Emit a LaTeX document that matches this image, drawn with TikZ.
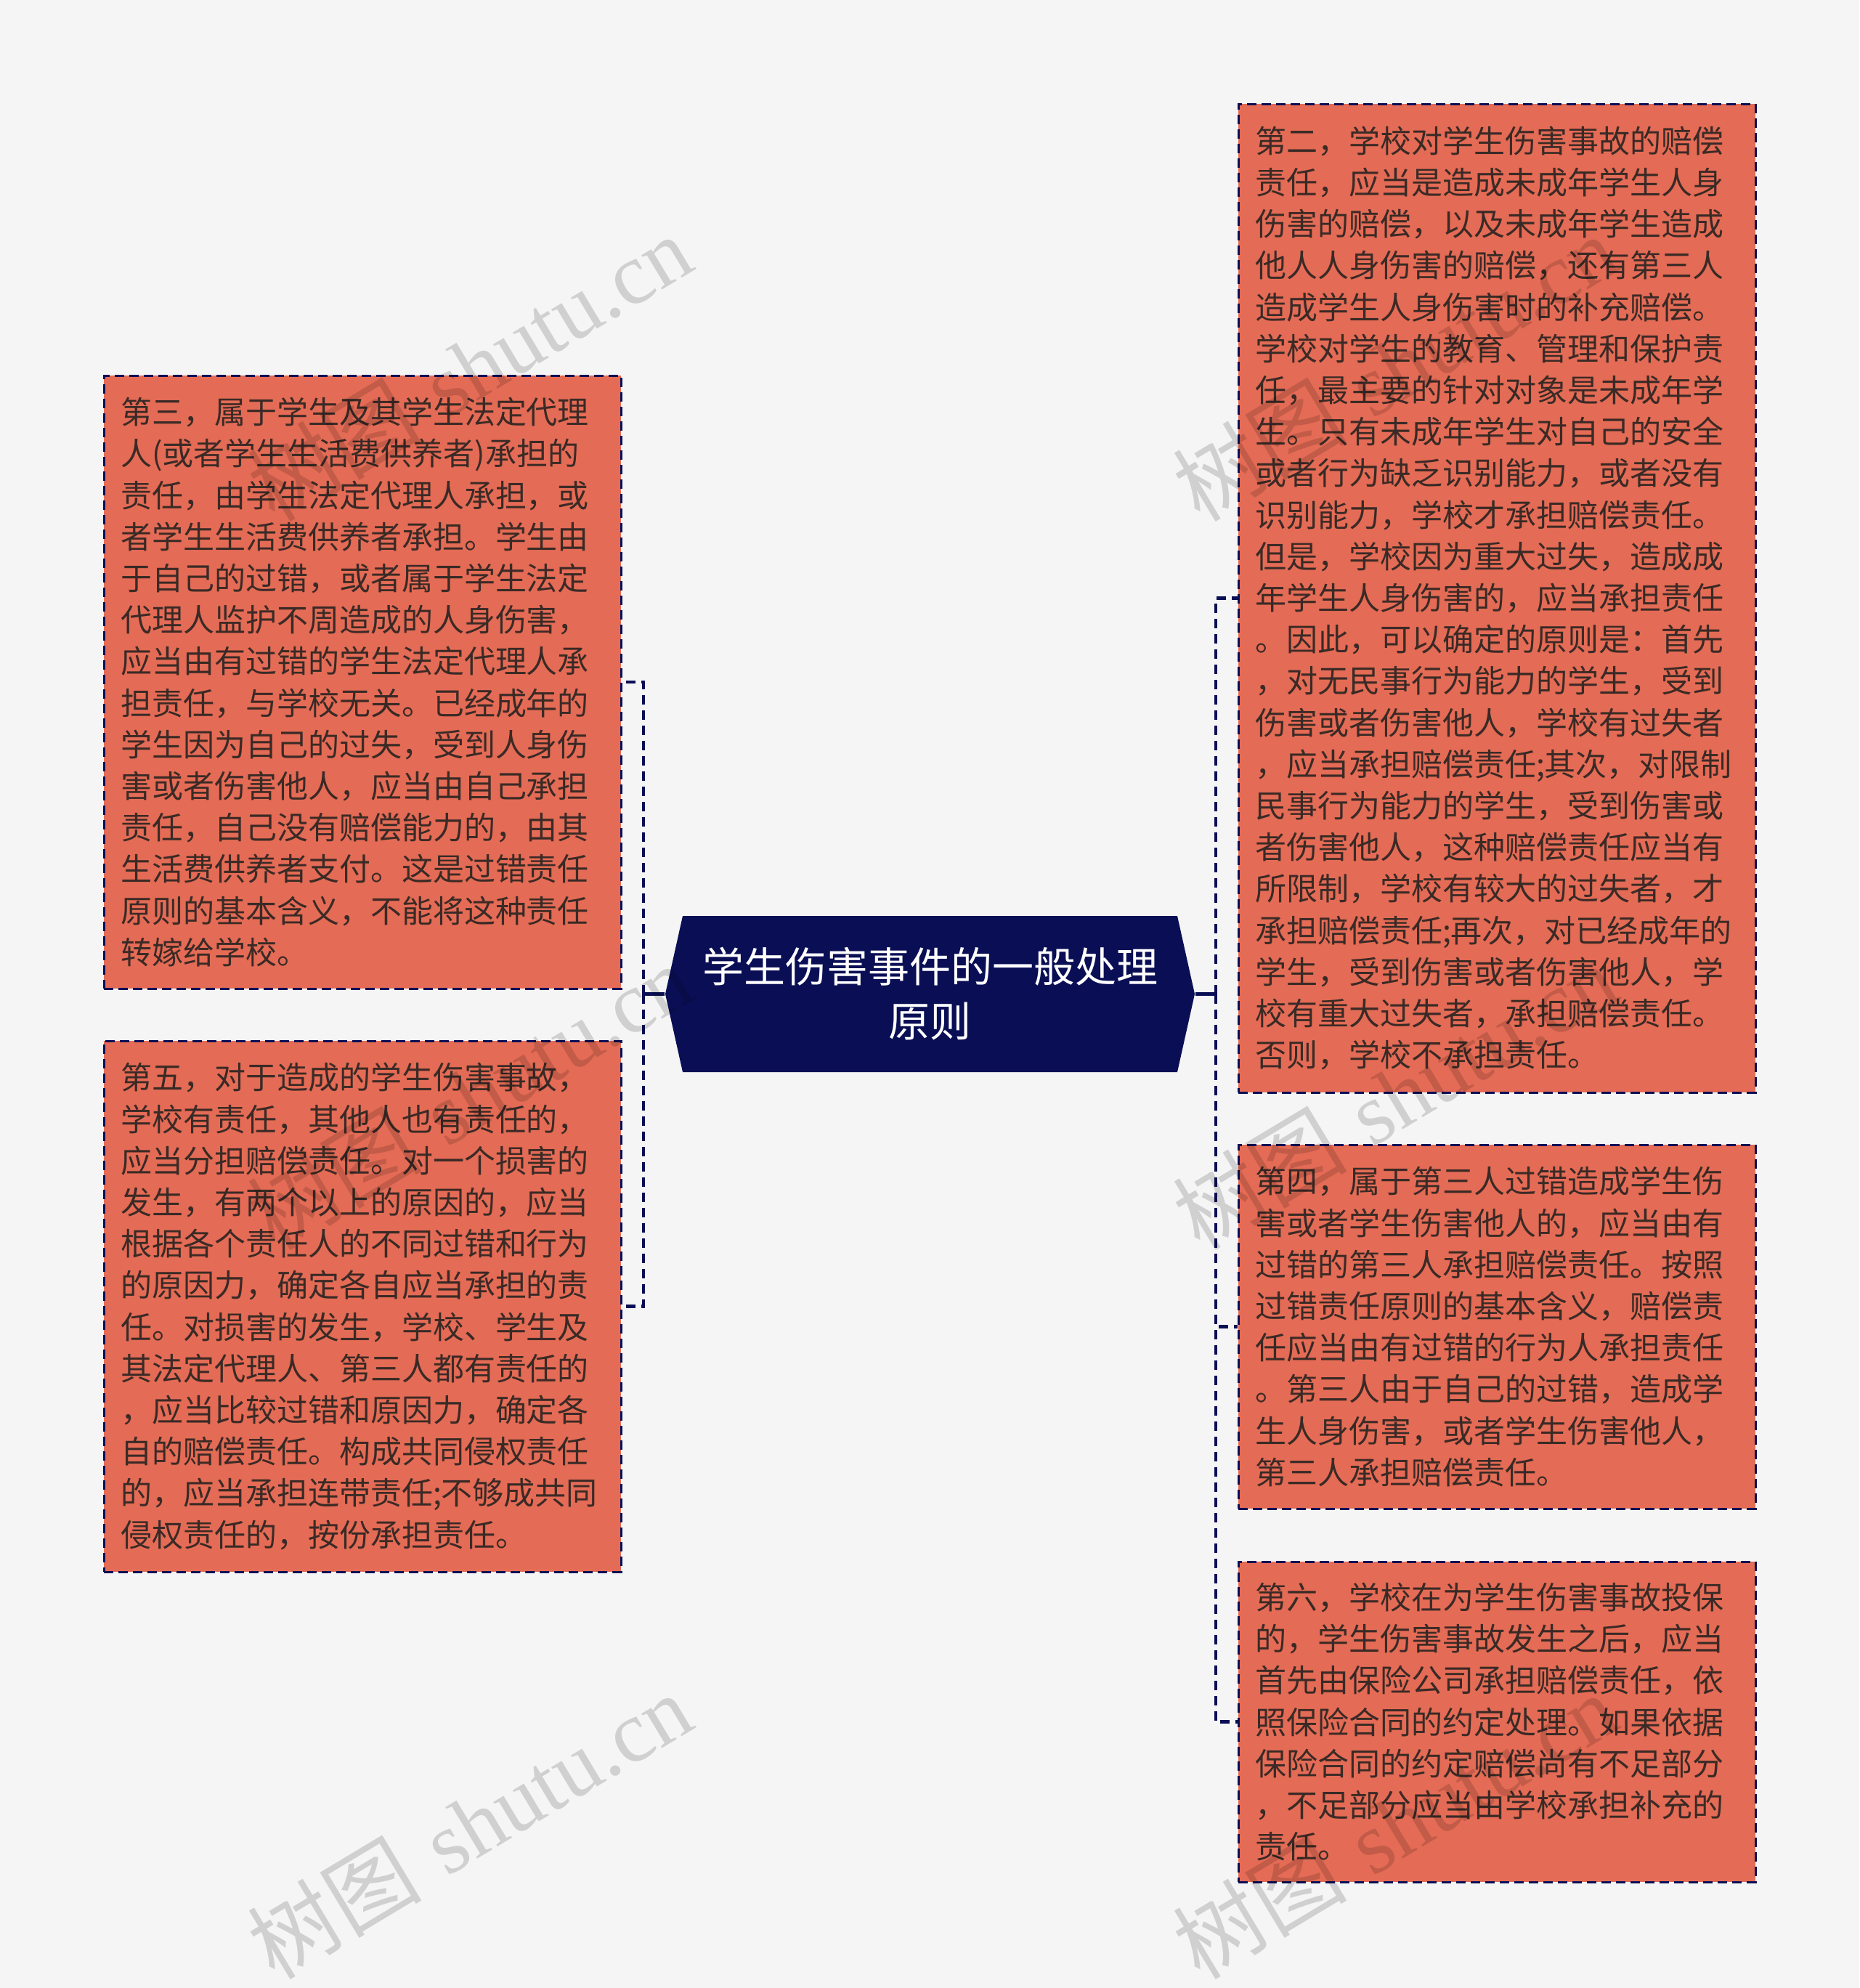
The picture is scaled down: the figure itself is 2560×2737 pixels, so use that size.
\documentclass[tikz,border=0pt]{standalone}
\usepackage{fontspec}
\newfontfamily\cjk{Noto Sans CJK SC}
\newfontfamily\wmserif{Liberation Serif}
\usetikzlibrary{calc}
\definecolor{bgc}{HTML}{F5F5F5}
\definecolor{boxc}{HTML}{E46B55}
\definecolor{navy}{HTML}{0A0F55}
\definecolor{txtc}{HTML}{3A2A26}
\tikzset{
  leaf/.style={rectangle, draw=navy, line width=0.9pt, dash pattern=on 3.8pt off 2.2pt,
    fill=boxc, text=txtc, text width=199.8pt, inner xsep=6.9pt, inner ysep=0pt,
    minimum width=213.6pt, align=left, font=\cjk\fontsize{12.9}{17.16}\selectfont},
  cnode/.style={rectangle, inner sep=0pt, minimum width=218.7pt, minimum height=64.5pt,
    text=white, align=center, font=\cjk\fontsize{17.1}{22.5}\selectfont},
  conn/.style={draw=navy, line width=1.4pt, dash pattern=on 3.9pt off 2.4pt},
  connsolid/.style={draw=navy, line width=1.4pt},
  wm/.style={rotate=31, text=black, text opacity=0.15, inner sep=0pt,
    font=\fontsize{36}{36}\selectfont}
}
\begin{document}
\begin{tikzpicture}[x=0.3pt,y=-0.3pt]
\useasboundingbox (0,0) rectangle (2560,2737);
\fill[bgc] (0,0) rectangle (2560,2737);

% leaf boxes
\node[leaf, minimum height=253.2pt] (b3) at (499,939) {第三，属于学生及其学生法定代理\\人(或者学生生活费供养者)承担的\\责任，由学生法定代理人承担，或\\者学生生活费供养者承担。学生由\\于自己的过错，或者属于学生法定\\代理人监护不周造成的人身伤害，\\应当由有过错的学生法定代理人承\\担责任，与学校无关。已经成年的\\学生因为自己的过失，受到人身伤\\害或者伤害他人，应当由自己承担\\责任，自己没有赔偿能力的，由其\\生活费供养者支付。这是过错责任\\原则的基本含义，不能将这种责任\\转嫁给学校。};

\node[leaf, minimum height=219.3pt] (b5) at (499,1798.5) {第五，对于造成的学生伤害事故，\\学校有责任，其他人也有责任的，\\应当分担赔偿责任。对一个损害的\\发生，有两个以上的原因的，应当\\根据各个责任人的不同过错和行为\\的原因力，确定各自应当承担的责\\任。对损害的发生，学校、学生及\\其法定代理人、第三人都有责任的\\，应当比较过错和原因力，确定各\\自的赔偿责任。构成共同侵权责任\\的，应当承担连带责任;不够成共同\\侵权责任的，按份承担责任。};

\node[leaf, minimum height=408.3pt] (b2) at (2061,823.5) {第二，学校对学生伤害事故的赔偿\\责任，应当是造成未成年学生人身\\伤害的赔偿，以及未成年学生造成\\他人人身伤害的赔偿，还有第三人\\造成学生人身伤害时的补充赔偿。\\学校对学生的教育、管理和保护责\\任，最主要的针对对象是未成年学\\生。只有未成年学生对自己的安全\\或者行为缺乏识别能力，或者没有\\识别能力，学校才承担赔偿责任。\\但是，学校因为重大过失，造成成\\年学生人身伤害的，应当承担责任\\。因此，可以确定的原则是：首先\\，对无民事行为能力的学生，受到\\伤害或者伤害他人，学校有过失者\\，应当承担赔偿责任;其次，对限制\\民事行为能力的学生，受到伤害或\\者伤害他人，这种赔偿责任应当有\\所限制，学校有较大的过失者，才\\承担赔偿责任;再次，对已经成年的\\学生，受到伤害或者伤害他人，学\\校有重大过失者，承担赔偿责任。\\否则，学校不承担责任。};

\node[leaf, minimum height=150.3pt] (b4) at (2061,1826.5) {第四，属于第三人过错造成学生伤\\害或者学生伤害他人的，应当由有\\过错的第三人承担赔偿责任。按照\\过错责任原则的基本含义，赔偿责\\任应当由有过错的行为人承担责任\\。第三人由于自己的过错，造成学\\生人身伤害，或者学生伤害他人，\\第三人承担赔偿责任。};

\node[leaf, minimum height=132.3pt] (b6) at (2061,2370.5) {第六，学校在为学生伤害事故投保\\的，学生伤害事故发生之后，应当\\首先由保险公司承担赔偿责任，依\\照保险合同的约定处理。如果依据\\保险合同的约定赔偿尚有不足部分\\，不足部分应当由学校承担补充的\\责任。};

% central node
\fill[navy] (940,1261) -- (1621,1261) -- (1645,1368.5) -- (1621,1476) -- (940,1476) -- (916,1368.5) -- cycle;
\node[cnode] (c) at (1280.5,1368.5) {学生伤害事件的一般处理\\原则};

% connectors
\coordinate (jl) at (886,1368.5);
\coordinate (jr) at (1674,1368.5);
\draw[connsolid] (c.west) -- (jl);
\draw[conn] (jl) |- (b3.east);
\draw[conn] (jl) |- (b5.east);
\draw[connsolid] (c.east) -- (jr);
\draw[conn] (jr) |- (b2.west);
\draw[conn] (jr) |- (b4.west);
\draw[conn] (jr) |- (b6.west);

% watermarks
\foreach \x/\y [count=\i] in {646/506, 1920/506, 646/1509, 1920/1509, 646/2513, 1920/2513}
  \node[wm] (w\i) at (\x,\y) {{\cjk 树图} {\wmserif shutu.cn}};
\end{tikzpicture}
\end{document}
